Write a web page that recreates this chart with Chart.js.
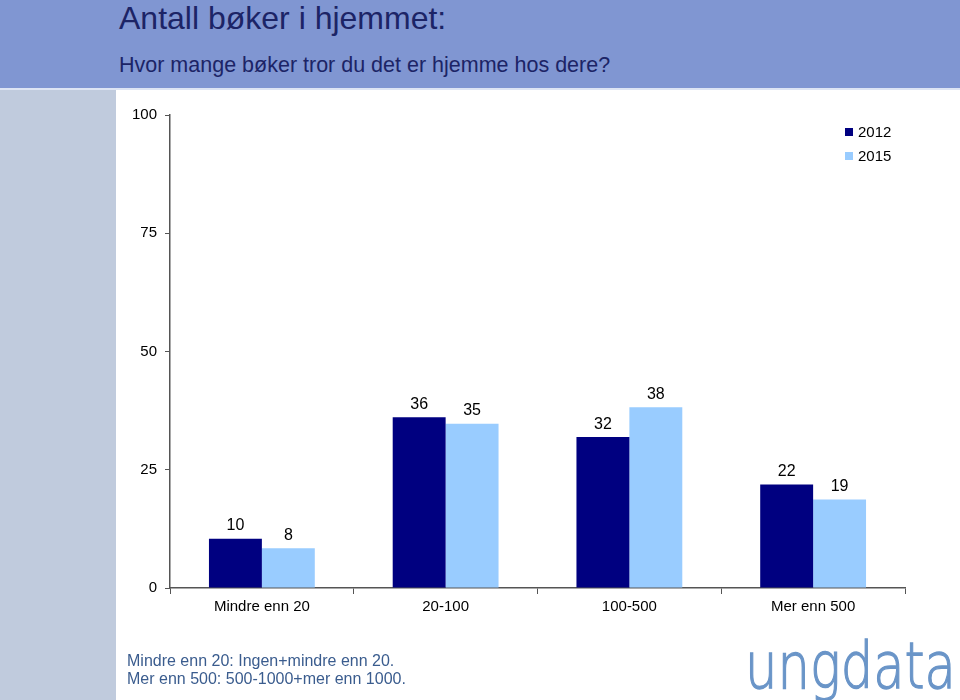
<!DOCTYPE html>
<html>
<head>
<meta charset="utf-8">
<script src="https://cdn.jsdelivr.net/npm/chart.js@4/dist/chart.umd.min.js"></script>
<style>
  body { margin: 0; width: 960px; height: 700px; overflow: hidden; background: #fff; position: relative; font-family: Tahoma, "Liberation Sans", Arial, sans-serif; }
  .header { position: absolute; left: 0; top: 0; width: 960px; height: 88px; background: #8096d2; border-bottom: 2px solid #dde4f4; }
  .side { position: absolute; left: 0; top: 90px; width: 116px; height: 610px; background: #c0cbdd; }
  .title { position: absolute; left: 119px; top: 0px; font-size: 32px; line-height: 36px; color: #1c2466; white-space: nowrap; }
  .subtitle { position: absolute; left: 119px; top: 52px; font-size: 21.5px; line-height: 26px; color: #1c2466; white-space: nowrap; }
  #chart { position: absolute; left: 0; top: 0; }
  .legend { position: absolute; left: 845px; top: 121px; font-size: 15px; color: #000; }
  .legend div { height: 24px; line-height: 21px; white-space: nowrap; }
  .legend span { display: inline-block; width: 8px; height: 8px; margin-right: 5px; vertical-align: 1px; }
  .note { position: absolute; left: 127px; top: 652px; font-size: 16px; line-height: 18px; color: #3a5c8e; white-space: nowrap; }
  .logo { position: absolute; left: 745px; top: 634px; font-family: "DejaVu Sans", sans-serif; font-weight: 200; font-size: 64px; line-height: 64px; color: #6a95c8; -webkit-text-stroke: 1.3px #6a95c8; transform: scaleX(0.8); transform-origin: left top; white-space: nowrap; }
</style>
</head>
<body>
<div class="header"></div>
<div class="side"></div>
<div class="title">Antall bøker i hjemmet:</div>
<div class="subtitle">Hvor mange bøker tror du det er hjemme hos dere?</div>
<canvas id="chart" width="960" height="700"></canvas>
<div class="legend" id="legend"></div>
<div class="note">Mindre enn 20: Ingen+mindre enn 20.<br>Mer enn 500: 500-1000+mer enn 1000.</div>
<div class="logo">ungdata</div>
<script>
// Categories and values
const categories = ["Mindre enn 20", "20-100", "100-500", "Mer enn 500"];
const values2012 = [10.4, 36.1, 31.9, 21.9];
const values2015 = [8.4, 34.7, 38.2, 18.7];
const yTicks = [0, 25, 50, 75, 100];

const fontFamily = 'Tahoma, "Liberation Sans", Arial, sans-serif';

// Draw rounded values above each bar
const barLabels = {
  id: "barLabels",
  afterDatasetsDraw(chart) {
    const ctx = chart.ctx;
    ctx.save();
    ctx.font = "16px " + fontFamily;
    ctx.fillStyle = "#000";
    ctx.textAlign = "center";
    ctx.textBaseline = "middle";
    chart.data.datasets.forEach((ds, i) => {
      chart.getDatasetMeta(i).data.forEach((bar, j) => {
        ctx.fillText(Math.round(ds.data[j]), bar.x, bar.y - 13);
      });
    });
    ctx.restore();
  },
};

const chart = new Chart(document.getElementById("chart"), {
  type: "bar",
  data: {
    labels: categories,
    datasets: [
      { label: "2012", data: values2012, backgroundColor: "#000080" },
      { label: "2015", data: values2015, backgroundColor: "#99ccff" },
    ],
  },
  options: {
    responsive: false,
    animation: false,
    layout: { padding: { top: 115, right: 55, bottom: 0, left: 0 } },
    datasets: { bar: { categoryPercentage: 0.576, barPercentage: 1.0 } },
    plugins: {
      legend: { display: false },
      tooltip: { enabled: false },
    },
    scales: {
      x: {
        afterFit: (scale) => { scale.height = 112; },
        grid: { drawOnChartArea: false, offset: true, tickLength: 6, color: "#555" },
        border: { display: true, color: "#555", width: 1.5 },
        ticks: { color: "#000", padding: 4, font: { size: 15, family: fontFamily } },
      },
      y: {
        min: 0,
        max: 100,
        afterFit: (scale) => { scale.width = 170; },
        afterBuildTicks: (scale) => { scale.ticks = yTicks.map((v) => ({ value: v })); },
        grid: { drawOnChartArea: false, tickLength: 5, color: "#555" },
        border: { display: true, color: "#555", width: 1.5 },
        ticks: { color: "#000", padding: 8, font: { size: 15, family: fontFamily } },
      },
    },
  },
  plugins: [barLabels],
});

// HTML legend built from the datasets
document.getElementById("legend").innerHTML = chart.data.datasets
  .map((ds) => `<div><span style="background:${ds.backgroundColor}"></span>${ds.label}</div>`)
  .join("");
</script>
</body>
</html>
